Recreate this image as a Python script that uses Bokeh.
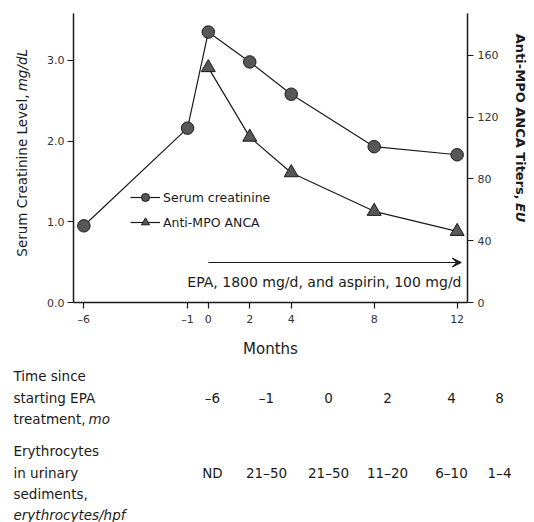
import math
from bokeh.plotting import figure
from bokeh.models import (Range1d, LinearAxis, FixedTicker, Label, Arrow, VeeHead,
                          Legend, LegendItem)
from bokeh.layouts import row, column
from bokeh.core.properties import value
from bokeh.embed import file_html
from bokeh.resources import INLINE

# ---------------- data ----------------
months = [-6, -1, 0, 2, 4, 8, 12]
creatinine = [0.95, 2.16, 3.35, 2.98, 2.58, 1.93, 1.83]
anca_months = [0, 2, 4, 8, 12]
anca = [152, 107, 84, 59, 46]
x_ticks = [-6, -1, 0, 2, 4, 8, 12]
left_ticks = [0, 1, 2, 3]
right_ticks = [0, 40, 80, 120, 160]
table_time = ["–6", "–1", "0", "2", "4", "8"]
table_rbc = ["ND", "21–50", "21–50", "11–20", "6–10", "1–4"]
treatment_start, treatment_end = 0, 12.2

# ---------------- layout (page pixels) ----------------
TOTAL_W, TOTAL_H = 534, 522
LEFT_W, RIGHT_W, TOP_H = 40, 30, 360
MAIN_W = TOTAL_W - LEFT_W - RIGHT_W
FRAME_L, FRAME_T, FRAME_R, FRAME_B = 73, 13, 467, 302
XMIN, XMAX = -6.5, 12.5
YMAX = 3.58
RMAX = 187.0
FONT = "DejaVu Sans"
INK = "#1a1a1a"


def dx(px):
    return XMIN + (px - FRAME_L) / (FRAME_R - FRAME_L) * (XMAX - XMIN)


def dy(py):
    return YMAX - (py - FRAME_T) / (FRAME_B - FRAME_T) * YMAX


def blank(w, h, ox):
    f = figure(width=w, height=h, output_backend="svg", toolbar_location=None,
               x_range=Range1d(0, w), y_range=Range1d(0, h), min_border=0)
    f.axis.visible = False
    f.grid.visible = False
    f.outline_line_color = None
    return f, ox


def txt(panel, h_top, s, px, py, align="left", angle=0.0, style="normal", size="13px"):
    f, ox = panel
    f.text(x=[px - ox], y=[f.height - (py - h_top)], text=[s], angle=angle,
           text_align=align, text_baseline="middle", text_font=value(FONT),
           text_font_size=size, text_font_style=style, text_color=INK)


# ---------------- main chart ----------------
p = figure(width=MAIN_W, height=TOP_H, output_backend="svg", toolbar_location=None,
           x_range=Range1d(XMIN, XMAX), y_range=Range1d(0, YMAX),
           min_border_left=FRAME_L - LEFT_W, min_border_top=FRAME_T,
           min_border_right=LEFT_W + MAIN_W - FRAME_R, min_border_bottom=TOP_H - FRAME_B)
p.extra_y_ranges = {"anca": Range1d(0, RMAX)}
p.outline_line_color = None
p.grid.visible = False


def style_axis(ax):
    ax.axis_line_color = INK
    ax.axis_line_width = 1.5
    ax.major_tick_line_color = INK
    ax.major_tick_line_width = 1.2
    ax.major_tick_out = 6
    ax.major_tick_in = 0
    ax.minor_tick_line_color = None
    ax.major_label_text_font = FONT
    ax.major_label_text_font_size = "11px"
    ax.major_label_text_color = "#333333"


xa = p.xaxis[0]
style_axis(xa)
xa.ticker = FixedTicker(ticks=x_ticks)
xa.major_label_overrides = {-6: "–6", -1: "–1"}
xa.major_label_standoff = 4
xa.axis_label = "Months"
xa.axis_label_text_font = FONT
xa.axis_label_text_font_style = "normal"
xa.axis_label_text_font_size = "15px"
xa.axis_label_text_color = INK
xa.axis_label_standoff = 11

ya = p.yaxis[0]
style_axis(ya)
ya.ticker = FixedTicker(ticks=left_ticks)
ya.major_label_overrides = {t: f"{t:.1f}" for t in left_ticks}
ya.major_label_standoff = 3

ra = LinearAxis(y_range_name="anca", ticker=FixedTicker(ticks=right_ticks))
style_axis(ra)
ra.major_label_standoff = 4
p.add_layout(ra, "right")

MK = "#575757"
l1 = p.line(months, creatinine, line_color=INK, line_width=1.2)
s1 = p.scatter(months, creatinine, marker="circle", size=12.5, fill_color=MK,
               line_color=INK, line_width=1)
l2 = p.line(anca_months, anca, y_range_name="anca", line_color=INK, line_width=1.2)
s2 = p.scatter(anca_months, anca, y_range_name="anca", marker="triangle", size=14,
               fill_color=MK, line_color=INK, line_width=1)

leg = Legend(items=[LegendItem(label="Serum creatinine", renderers=[l1, s1]),
                    LegendItem(label="Anti-MPO ANCA", renderers=[l2, s2])],
             location=(57, 70), orientation="vertical")
leg.background_fill_alpha = 0
leg.border_line_color = None
leg.padding = 0
leg.margin = 0
leg.spacing = 5
leg.glyph_width = 30
leg.glyph_height = 20
leg.label_height = 20
leg.label_standoff = 3
leg.label_text_font = FONT
leg.label_text_font_size = "12.5px"
leg.label_text_color = INK
p.add_layout(leg)

p.add_layout(Arrow(end=VeeHead(size=9, fill_color=INK, line_color=INK),
                   x_start=treatment_start, y_start=dy(262),
                   x_end=treatment_end, y_end=dy(262),
                   line_color=INK, line_width=1))
p.add_layout(Label(text="EPA, 1800 mg/d, and aspirin, 100 mg/d", x=dx(461), y=dy(281),
                   text_align="right", text_baseline="middle", text_font=FONT,
                   text_font_size="14px", text_color=INK))

# ---------------- side panels with axis titles ----------------
lf = blank(LEFT_W, TOP_H, 0)
txt(lf, 0, "Serum Creatinine Level,", 21, 101, align="right", angle=math.pi / 2, size="13.5px")
txt(lf, 0, "mg/dL", 21, 97, align="left", angle=math.pi / 2, style="italic", size="13.5px")

rf = blank(RIGHT_W, TOP_H, LEFT_W + MAIN_W)
txt(rf, 0, "Anti-MPO ANCA Titers,", 520, 232, align="right", angle=-math.pi / 2,
    style="bold", size="13px")
txt(rf, 0, "EU", 520, 236, align="left", angle=-math.pi / 2, style="bold italic", size="13px")

# ---------------- table below ----------------
tf = blank(TOTAL_W, TOTAL_H - TOP_H, 0)
T = TOP_H
txt(tf, T, "Time since", 13, 375, size="13.5px")
txt(tf, T, "starting EPA", 13, 397, size="13.5px")
txt(tf, T, "treatment,", 13, 418, size="13.5px")
txt(tf, T, "mo", 88, 418, style="italic", size="13.5px")
txt(tf, T, "Erythrocytes", 13, 450, size="13.5px")
txt(tf, T, "in urinary", 13, 472, size="13.5px")
txt(tf, T, "sediments,", 13, 493, size="13.5px")
txt(tf, T, "erythrocytes/hpf", 13, 514, style="italic", size="13.5px")

col_px = [212, 266, 328, 387, 451, 499]
for cx, t1, t2 in zip(col_px, table_time, table_rbc):
    txt(tf, T, t1, cx, 397, align="center", size="13.5px")
    txt(tf, T, t2, cx, 472, align="center", size="13.5px")

layout = column(row(lf[0], p, rf[0]), tf[0])
open("out.html", "w").write(file_html(layout, INLINE))
